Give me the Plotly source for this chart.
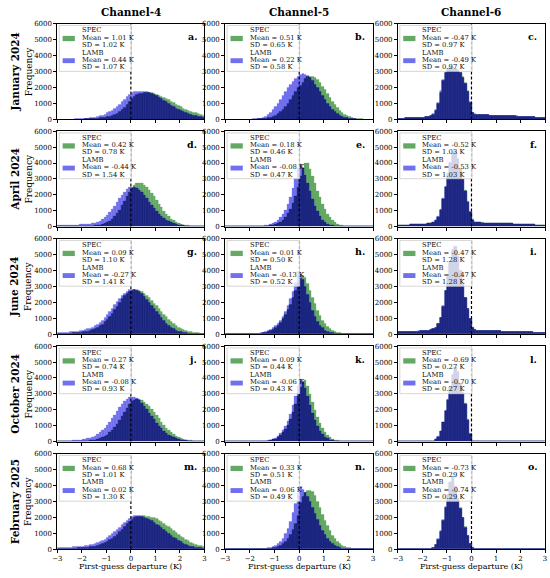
import plotly.graph_objects as go

# ---------------- data ----------------
channels = ["Channel-4", "Channel-5", "Channel-6"]
months = ["January 2024", "April 2024", "June 2024", "October 2024", "February 2025"]
panel_letters = ["a.", "b.", "c.", "d.", "e.", "f.", "g.", "h.", "i.", "j.", "k.", "l.", "m.", "n.", "o."]
bin_centers = [round(-2.95 + 0.1 * i, 2) for i in range(60)]
x_tick_vals = [-3, -2, -1, 0, 1, 2, 3]
x_tick_text = ["\u22123", "\u22122", "\u22121", "0", "1", "2", "3"]
y_tick_vals = [0, 1000, 2000, 3000, 4000, 5000, 6000]
y_tick_text = ["0", "1000", "2000", "3000", "4000", "5000", "6000"]

spec_mean = [1.01, 0.51, -0.47, 0.42, 0.18, -0.52, 0.09, 0.01, -0.47, 0.27, 0.09, -0.69, 0.68, 0.33, -0.73]
spec_sd = [1.02, 0.65, 0.97, 0.78, 0.46, 1.03, 1.10, 0.50, 1.28, 0.74, 0.44, 0.27, 1.01, 0.51, 0.29]
lamb_mean = [0.44, 0.22, -0.49, -0.44, -0.08, -0.53, -0.27, -0.13, -0.47, -0.08, -0.06, -0.70, 0.02, 0.06, -0.74]
lamb_sd = [1.07, 0.58, 0.97, 1.54, 0.47, 1.03, 1.41, 0.52, 1.28, 0.93, 0.43, 0.27, 1.30, 0.49, 0.29]

# Histogram counts per 0.1 K bin, from -3 to 3 K
spec_a = [0,0,0,0,0,0,0,5,5,10, 10,15,20,25,35,45,60,75,95,120,
          150,190,240,300,380,480,600,750,920,1100, 1280,1420,1520,1590,1640,1670,1680,1680,1660,1620,
          1570,1510,1440,1370,1290,1210,1130,1040,950,860, 770,700,630,560,500,440,390,340,300,260]
lamb_a = [0,0,0,5,5,10,10,15,20,30, 40,50,65,80,100,130,165,210,260,320,
          390,470,570,680,810,950,1100,1260,1420,1560, 1660,1710,1730,1740,1740,1730,1710,1680,1630,1560,
          1480,1390,1290,1190,1080,980,880,780,690,600, 520,450,390,330,280,240,200,170,140,120]
spec_b = [0,0,0,0,0,0,0,0,0,0, 0,5,10,15,20,35,55,85,125,185,
          260,360,480,630,800,1000,1230,1480,1740,1980, 2100,2330,2520,2650,2700,2680,2600,2470,2300,2080,
          1840,1590,1340,1110,900,710,550,420,310,225, 160,110,70,45,28,17,10,5,0,0]
lamb_b = [0,0,0,0,0,0,0,0,0,0, 10,15,25,40,70,120,190,290,420,590,
          780,1000,1230,1470,1720,1960,2180,2380,2560,2700, 2800,2860,2830,2740,2600,2420,2200,1960,1710,1460,
          1220,990,790,610,460,340,240,170,110,75, 50,30,20,10,5,0,0,0,0,0]
spec_c = [60,65,70,75,80,85,90,95,100,110, 120,140,170,220,320,550,1000,1700,2400,2900,
          3150,3250,3250,3200,3100,2950,2700,2300,1800,1100, 420,330,310,300,290,280,270,260,250,245,
          240,235,230,225,220,215,210,205,200,195, 190,180,170,160,150,140,130,120,110,100]
lamb_c = [60,65,70,75,80,85,90,95,105,115, 125,145,180,235,340,590,1060,1780,2480,2950,
          3200,3290,3260,3190,3070,2900,2640,2230,1720,1030, 400,320,305,295,285,275,265,255,248,242,
          238,233,228,223,218,213,208,203,198,193, 188,178,168,158,148,138,128,118,108,98]
spec_d = [0,0,0,0,5,5,5,10,10,15, 20,25,30,40,50,65,85,110,150,200,
          270,360,480,640,830,1060,1330,1620,1900,2180, 2420,2600,2710,2750,2720,2630,2490,2310,2100,1880,
          1650,1420,1200,990,800,630,490,370,280,210, 150,110,80,55,40,30,20,15,10,5]
lamb_d = [90,90,95,95,100,100,105,110,115,120, 130,140,155,175,200,240,290,360,450,570,
          720,890,1080,1300,1530,1770,1990,2190,2350,2460, 2500,2480,2410,2300,2150,1970,1770,1560,1350,1150,
          970,800,650,520,410,320,250,190,150,110, 85,65,50,40,30,25,20,15,10,10]
spec_e = [0,0,0,0,0,0,0,0,0,0, 0,0,5,5,10,15,25,40,60,90,
          140,210,300,430,600,820,1110,1480,1940,2500, 3150,3700,3980,3960,3600,3150,2700,2250,1820,1430,
          1080,790,560,380,250,165,105,65,40,25, 15,10,5,5,0,0,0,0,0,0]
lamb_e = [0,0,0,0,0,0,0,0,5,5, 5,10,10,15,25,35,55,85,130,190,
          280,400,560,780,1060,1420,1850,2400,3050,3700, 3900,3650,3250,2750,2200,1720,1290,940,650,430,
          280,170,100,60,35,20,10,5,0,0, 0,0,0,0,0,0,0,0,0,0]
spec_f = [100,105,110,110,115,120,125,130,140,150, 160,175,195,230,290,400,620,1050,1700,2500,
          3300,4000,4600,4750,4300,3700,3000,2300,1600,950, 450,280,260,250,245,240,235,230,225,220,
          215,210,205,200,195,190,185,180,175,170, 165,160,150,140,130,120,110,100,95,90]
lamb_f = [100,105,110,112,117,122,128,134,144,155, 165,180,200,240,300,420,650,1100,1760,2560,
          3350,4050,4620,4730,4250,3640,2950,2250,1560,920, 430,275,258,248,243,238,233,228,223,218,
          213,208,203,198,193,188,183,178,173,168, 163,158,148,138,128,118,108,98,93,88]
spec_g = [20,25,30,35,40,50,60,70,85,100, 120,145,175,210,260,320,400,500,620,760,
          920,1100,1300,1520,1750,1980,2200,2400,2570,2690, 2760,2790,2780,2730,2650,2550,2420,2270,2110,1940,
          1770,1590,1410,1240,1080,920,780,650,530,430, 340,270,210,160,125,95,75,60,45,35]
lamb_g = [90,95,100,105,115,125,140,155,175,200, 230,270,310,360,420,500,600,720,870,1040,
          1220,1410,1610,1820,2020,2210,2390,2550,2680,2770, 2810,2800,2750,2660,2530,2370,2190,2000,1800,1600,
          1400,1200,1010,840,680,540,420,320,240,180, 130,95,70,50,35,25,20,15,10,5]
spec_h = [0,0,0,0,0,0,5,5,5,10, 10,15,20,30,45,65,95,140,200,290,
          400,540,720,940,1200,1510,1870,2280,2720,3150, 3500,3700,3550,3200,2750,2300,1880,1500,1160,870,
          640,460,320,210,140,90,55,35,20,10, 5,5,0,0,0,0,0,0,0,0]
lamb_h = [0,0,0,0,5,5,5,10,10,15, 20,25,35,50,70,100,140,200,280,390,
          500,660,860,1110,1420,1780,2200,2650,3250,3950, 3750,3400,2950,2450,1950,1500,1120,800,550,370,
          240,150,90,55,30,20,10,5,0,0, 0,0,0,0,0,0,0,0,0,0]
spec_i = [140,145,150,150,155,160,165,170,180,190, 200,215,235,265,320,420,640,1050,1750,2700,
          3600,4500,5300,5500,4900,4000,3100,2300,1600,950, 380,250,235,225,220,215,210,205,200,195,
          190,185,180,175,170,165,160,155,150,145, 140,135,130,125,120,115,110,105,100,95]
lamb_i = [142,146,150,152,156,161,166,172,182,192, 203,218,238,268,325,428,650,1060,1760,2710,
          3620,4520,5320,5480,4870,3970,3080,2280,1590,940, 375,248,233,224,219,214,209,204,199,194,
          189,184,179,174,169,164,159,154,149,144, 139,134,129,124,119,114,109,104,99,94]
spec_j = [0,0,0,5,5,5,10,10,15,20, 25,35,45,60,80,105,140,190,250,330,
          430,560,720,900,1110,1340,1590,1850,2100,2330, 2510,2620,2670,2660,2600,2500,2370,2210,2030,1840,
          1640,1440,1240,1050,870,710,570,450,350,270, 200,150,110,80,55,40,30,20,15,10]
lamb_j = [20,25,30,35,40,45,55,65,80,100, 120,150,185,230,290,360,450,560,700,860,
          1040,1240,1460,1690,1920,2150,2360,2540,2680,2780, 2820,2790,2710,2590,2430,2240,2030,1810,1590,1380,
          1180,990,820,670,540,430,330,250,190,140, 100,75,55,40,30,20,15,10,5,5]
spec_k = [0,0,0,0,0,0,0,0,0,0, 0,5,5,10,15,20,30,50,80,120,
          180,270,390,560,780,1060,1410,1840,2330,2870, 3400,3820,3850,3500,2980,2450,1960,1520,1140,830,
          590,410,280,180,115,70,45,25,15,10, 5,5,0,0,0,0,0,0,0,0]
lamb_k = [0,0,0,0,0,0,0,0,0,0, 5,5,10,15,20,30,45,70,110,160,
          240,350,500,700,960,1300,1740,2270,2880,3500, 3900,3750,3350,2830,2280,1780,1340,970,670,450,
          300,190,115,70,40,25,15,5,5,0, 0,0,0,0,0,0,0,0,0,0]
spec_l = [0,0,0,0,0,0,0,0,0,0, 0,0,0,5,30,120,300,650,1200,1900,
          2600,3400,4200,4700,4400,3700,3100,2400,1400,500, 30,0,0,0,0,0,0,0,0,0,
          0,0,0,0,0,0,0,0,0,0, 0,0,0,0,0,0,0,0,0,0]
lamb_l = [0,0,0,0,0,0,0,0,0,0, 0,0,0,5,35,130,320,680,1240,1950,
          2650,3450,4250,4680,4350,3650,3050,2350,1360,480, 25,0,0,0,0,0,0,0,0,0,
          0,0,0,0,0,0,0,0,0,0, 0,0,0,0,0,0,0,0,0,0]
spec_m = [20,20,25,25,30,35,40,45,55,65, 75,90,105,125,150,180,220,270,330,400,
          480,570,680,800,930,1080,1240,1410,1570,1720, 1850,1950,2010,2050,2070,2070,2060,2040,2000,1950,
          1880,1800,1710,1610,1500,1390,1270,1150,1030,910, 800,690,590,500,420,350,290,240,195,160]
lamb_m = [90,90,95,100,105,110,120,130,145,160, 180,200,225,255,290,330,380,440,520,610,
          710,820,940,1070,1210,1360,1510,1660,1800,1920, 2020,2080,2110,2100,2060,2000,1930,1850,1760,1660,
          1560,1450,1340,1220,1100,980,860,740,630,530, 440,360,290,230,180,140,110,85,65,50]
spec_n = [0,0,0,0,0,0,0,0,0,0, 0,0,5,5,10,15,20,30,45,70,
          100,150,220,320,460,650,900,1220,1620,2080, 2900,3300,3550,3680,3700,3580,3330,2990,2600,2190,
          1800,1450,1140,870,650,470,330,220,140,90, 55,35,20,10,5,0,0,0,0,0]
lamb_n = [0,0,0,0,0,0,0,0,0,0, 0,5,5,10,15,25,40,60,90,140,
          220,330,480,680,950,1300,1740,2270,2870,3500, 3900,3750,3550,3300,2980,2620,2230,1840,1480,1160,
          880,650,460,310,200,125,75,45,25,15, 5,0,0,0,0,0,0,0,0,0]
spec_o = [0,0,0,0,0,0,0,0,0,0, 0,0,0,20,80,250,600,1100,1800,2600,
          3400,4200,4600,4000,3200,2600,2000,1400,850,350, 60,20,0,0,0,0,0,0,0,0,
          0,0,0,0,0,0,0,0,0,0, 0,0,0,0,0,0,0,0,0,0]
lamb_o = [0,0,0,0,0,0,0,0,0,0, 0,0,0,25,90,270,630,1150,1850,2650,
          3450,4230,4580,3950,3150,2550,1950,1350,820,330, 55,15,0,0,0,0,0,0,0,0,
          0,0,0,0,0,0,0,0,0,0, 0,0,0,0,0,0,0,0,0,0]

spec_series = [spec_a, spec_b, spec_c, spec_d, spec_e, spec_f, spec_g, spec_h,
               spec_i, spec_j, spec_k, spec_l, spec_m, spec_n, spec_o]
lamb_series = [lamb_a, lamb_b, lamb_c, lamb_d, lamb_e, lamb_f, lamb_g, lamb_h,
               lamb_i, lamb_j, lamb_k, lamb_l, lamb_m, lamb_n, lamb_o]

# ---------------- style ----------------
W, H = 550, 578
GREEN = "#63a863"
BLUE = "#7070ee"
NAVY = "#1d2884"
SERIF = "DejaVu Serif"

col_px = [(53, 202), (223, 373), (398, 547)]
row_px = [(20, 117), (129, 225.7), (238, 334.7), (347, 443.7), (456, 552.7)]

fig = go.Figure()
shapes = []
annotations = []

for idx in range(15):
    r, c = divmod(idx, 3)
    n = idx + 1
    xa = "x" if n == 1 else f"x{n}"
    ya = "y" if n == 1 else f"y{n}"
    spec = spec_series[idx]
    lamb = lamb_series[idx]
    overlap = [min(s, l) for s, l in zip(spec, lamb)]

    fig.add_trace(go.Bar(x=bin_centers, y=spec, width=0.1, xaxis=xa, yaxis=ya,
                         marker=dict(color=GREEN, line=dict(color=GREEN, width=0.3)),
                         showlegend=False, name="SPEC"))
    fig.add_trace(go.Bar(x=bin_centers, y=lamb, width=0.1, xaxis=xa, yaxis=ya,
                         marker=dict(color=BLUE, line=dict(color=BLUE, width=0.3)),
                         showlegend=False, name="LAMB"))
    fig.add_trace(go.Bar(x=bin_centers, y=overlap, width=0.1, xaxis=xa, yaxis=ya,
                         marker=dict(color=NAVY, line=dict(color="#18206c", width=0.3)),
                         showlegend=False, name="overlap"))

    x0p, x1p = col_px[c]
    y0p, y1p = row_px[r]
    axis_common = dict(showline=True, mirror=True, linecolor="black", linewidth=0.9,
                       ticks="outside", ticklen=3, tickwidth=0.8, tickcolor="black",
                       showgrid=False, zeroline=False,
                       tickfont=dict(family=SERIF, size=7, color="black"))
    fig.layout[f"xaxis{'' if n == 1 else n}"] = dict(
        domain=[x0p / W, x1p / W], range=[-3, 3], anchor=ya,
        tickmode="array", tickvals=x_tick_vals, ticktext=x_tick_text,
        showticklabels=(r == 4), **axis_common)
    fig.layout[f"yaxis{'' if n == 1 else n}"] = dict(
        domain=[1 - y1p / H, 1 - y0p / H], range=[0, 6000], anchor=xa,
        tickmode="array", tickvals=y_tick_vals, ticktext=y_tick_text,
        **axis_common)

    # dashed zero line
    shapes.append(dict(type="line", xref=xa, yref=f"{ya} domain", x0=0, x1=0, y0=0, y1=1,
                       line=dict(color="black", width=1.2, dash="3px,2px"), layer="above"))
    # legend box
    shapes.append(dict(type="rect", xref=f"{xa} domain", yref=f"{ya} domain",
                       x0=0.013, x1=0.503, y0=0.502, y1=0.982,
                       fillcolor="rgba(255,255,255,0.8)", line=dict(color="#cccccc", width=0.8),
                       layer="above"))
    # legend patches
    shapes.append(dict(type="rect", xref=f"{xa} domain", yref=f"{ya} domain",
                       x0=0.036, x1=0.119, y0=0.818, y1=0.873,
                       fillcolor=GREEN, line=dict(width=0), layer="above"))
    shapes.append(dict(type="rect", xref=f"{xa} domain", yref=f"{ya} domain",
                       x0=0.036, x1=0.119, y0=0.588, y1=0.639,
                       fillcolor=BLUE, line=dict(width=0), layer="above"))

    lines = ["SPEC", f"Mean = {spec_mean[idx]:.2f} K", f"SD = {spec_sd[idx]:.2f} K",
             "LAMB", f"Mean = {lamb_mean[idx]:.2f} K", f"SD = {lamb_sd[idx]:.2f} K"]
    ys = [0.931, 0.855, 0.781, 0.698, 0.621, 0.546]
    for t, yy in zip(lines, ys):
        annotations.append(dict(text=t, xref=f"{xa} domain", yref=f"{ya} domain",
                                x=0.152, y=yy, xanchor="left", yanchor="middle", showarrow=False,
                                font=dict(family=SERIF, size=6.8, color="#111111")))
    # panel letter
    annotations.append(dict(text=f"<b>{panel_letters[idx]}</b>", xref=f"{xa} domain", yref=f"{ya} domain",
                            x=0.96, y=0.865, xanchor="right", yanchor="middle", showarrow=False,
                            font=dict(family=SERIF, size=9.5, color="black")))

# column titles and x-axis titles
for c in range(3):
    xc = (col_px[c][0] + col_px[c][1]) / 2 / W
    annotations.append(dict(text=f"<b>{channels[c]}</b>", xref="paper", yref="paper",
                            x=xc, y=1 - 8 / H, xanchor="center", yanchor="middle", showarrow=False,
                            font=dict(family=SERIF, size=10.5, color="black")))
    annotations.append(dict(text="First-guess departure (K)", xref="paper", yref="paper",
                            x=xc, y=1 - 570 / H, xanchor="center", yanchor="middle", showarrow=False,
                            font=dict(family=SERIF, size=8, color="black")))

# row labels
for r in range(5):
    yc = 1 - (row_px[r][0] + row_px[r][1]) / 2 / H
    annotations.append(dict(text=f"<b>{months[r]}</b>", xref="paper", yref="paper",
                            x=10 / W, y=yc, xanchor="center", yanchor="middle", showarrow=False,
                            textangle=-90, font=dict(family=SERIF, size=10.5, color="black")))
    annotations.append(dict(text="Frequency", xref="paper", yref="paper",
                            x=24 / W, y=yc, xanchor="center", yanchor="middle", showarrow=False,
                            textangle=-90, font=dict(family=SERIF, size=9, color="black")))

fig.update_layout(width=W, height=H, autosize=False,
                  margin=dict(l=0, r=0, t=0, b=0),
                  paper_bgcolor="white", plot_bgcolor="white",
                  barmode="overlay", bargap=0,
                  shapes=shapes, annotations=annotations,
                  font=dict(family=SERIF, color="black"))

fig.write_html("out.html", config={"displayModeBar": False},
               post_script="document.body.style.margin='0px';")
